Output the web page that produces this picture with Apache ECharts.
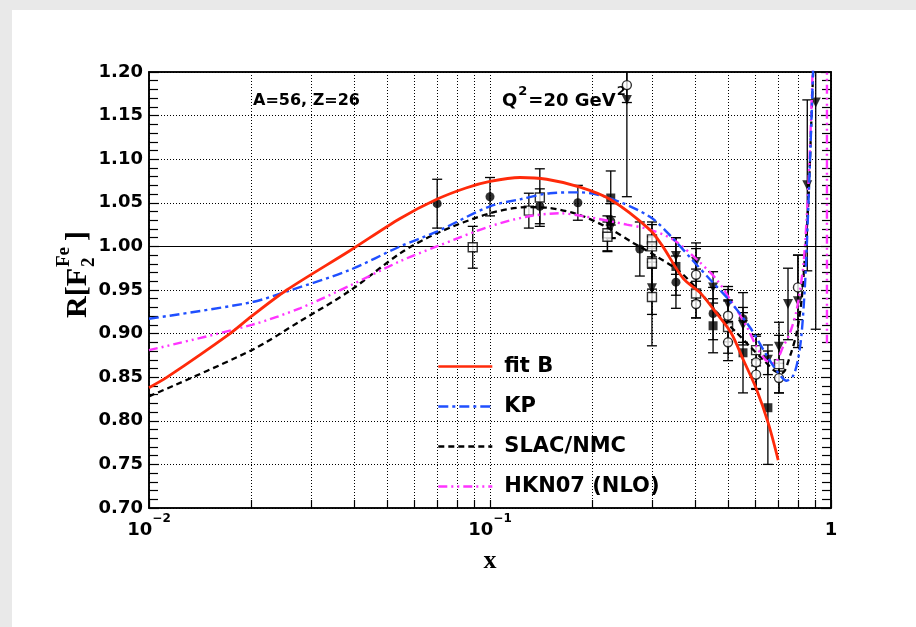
<!DOCTYPE html>
<html><head><meta charset="utf-8">
<script src="https://cdn.jsdelivr.net/npm/echarts@6/dist/echarts.min.js"></script>
<style>
html,body{margin:0;padding:0;width:916px;height:627px;background:#e9e9e9;overflow:hidden;}
#c{position:absolute;left:12px;top:10px;width:904px;height:617px;background:#fff;}
</style></head><body><div id="c"></div>
<script>
// ---------------- data ----------------
const X_TICKS = [0.01,0.02,0.03,0.04,0.05,0.06,0.07,0.08,0.09,0.1,0.2,0.3,0.4,0.5,0.6,0.7,0.8,0.9,1];
const X_LABELS = [0.01, 0.1, 1];

const fitB_x = [0.01,0.0113,0.01728,0.02,0.02535,0.0388,0.0545,0.0698,0.085,0.100,0.1225,0.1466,0.1836,0.2249,0.2945,0.321,0.369,0.413,0.454,0.509,0.553,0.605,0.655,0.70];
const fitB_y = [0.838,0.850,0.900,0.920,0.950,0.995,1.032,1.054,1.067,1.0745,1.079,1.077,1.068,1.054,1.019,1.000,0.963,0.947,0.927,0.901,0.870,0.836,0.797,0.755];

const kp_x = [0.01,0.02,0.0259,0.0388,0.0545,0.0698,0.100,0.1225,0.150,0.1836,0.224,0.2945,0.343,0.395,0.442,0.506,0.579,0.65,0.70,0.741,0.775,0.80,0.82,0.84,0.855,0.87,0.886,0.91];
const kp_y = [0.917,0.936,0.9495,0.973,1.000,1.017,1.046,1.054,1.061,1.062,1.0555,1.034,1.0096,0.983,0.962,0.937,0.907,0.874,0.855,0.846,0.852,0.870,0.900,0.960,1.030,1.110,1.200,1.330];

const slac_x = [0.01,0.02,0.0277,0.0388,0.0545,0.0698,0.100,0.128,0.150,0.1836,0.2249,0.263,0.308,0.3605,0.42,0.483,0.529,0.579,0.633,0.685,0.72,0.758,0.793,0.82,0.839,0.858,0.875,0.89];
const slac_y = [0.828,0.881,0.914,0.949,0.992,1.015,1.038,1.045,1.044,1.036,1.020,1.004,0.9885,0.971,0.944,0.916,0.901,0.885,0.870,0.857,0.855,0.874,0.901,0.939,0.990,1.050,1.140,1.220];

const hkn_x = [0.01,0.02,0.0277,0.0388,0.0545,0.0698,0.100,0.128,0.1604,0.192,0.252,0.29,0.344,0.404,0.462,0.506,0.566,0.605,0.642,0.68,0.724,0.758,0.793,0.829,0.849,0.865,0.878,0.89];
const hkn_y = [0.881,0.910,0.929,0.955,0.983,1.000,1.023,1.034,1.038,1.034,1.025,1.020,1.008,0.985,0.962,0.939,0.908,0.885,0.870,0.866,0.885,0.901,0.927,0.977,1.034,1.100,1.170,1.250];
const hknTail_x = [0.973, 0.973];
const hknTail_y = [1.30, 0.889];

// data points: x, ratio, error
const circF_x = [0.070,0.100,0.140,0.181,0.226,0.275,0.351,0.451,0.552];
const circF_y = [1.049,1.057,1.046,1.050,1.029,0.997,0.959,0.923,0.917];
const circF_e = [0.028,0.022,0.020,0.020,0.020,0.031,0.030,0.030,0.030];

const sqO_x = [0.089,0.130,0.140,0.221,0.221,0.2985,0.2985,0.2985,0.2985,0.402,0.499,0.603,0.704];
const sqO_y = [0.999,1.041,1.056,1.015,1.011,1.008,1.000,0.981,0.942,0.946,0.9075,0.881,0.865];
const sqO_e = [0.024,0.020,0.033,0.020,0.017,0.020,0.025,0.030,0.056,0.028,0.030,0.018,0.033];

const sqF_x = [0.226,0.351,0.451,0.552,0.653];
const sqF_y = [1.0555,0.977,0.909,0.878,0.815];
const sqF_e = [0.031,0.033,0.031,0.046,0.065];

const tri_x = [0.226,0.252,0.2985,0.351,0.402,0.451,0.499,0.552,0.653,0.704,0.748,0.800,0.852,0.902];
const tri_y = [1.022,1.168,0.952,0.989,0.982,0.953,0.934,0.910,0.870,0.885,0.934,0.937,1.070,1.165];
const tri_e = [0.012,0.111,0.030,0.021,0.022,0.018,0.020,0.020,0.017,0.028,0.041,0.053,0.098,0.260];

const circO_x = [0.252,0.402,0.402,0.499,0.499,0.603,0.603,0.704,0.800];
const circO_y = [1.185,0.9675,0.934,0.9205,0.890,0.867,0.853,0.849,0.953];
const circO_e = [0.020,0.030,0.016,0.030,0.021,0.030,0.017,0.017,0.037];

// ---------------- chart ----------------
const FONT = 'DejaVu Sans';
const pairs = (xs, ys) => xs.map((x, i) => [x, ys[i]]);
const triples = (xs, ys, es) => xs.map((x, i) => [x, ys[i], es[i]]);

function errRender(params, api) {
  const x = api.value(0), y = api.value(1), e = api.value(2);
  const top = api.coord([x, y + e]);
  const bot = api.coord([x, y - e]);
  const w = 5;
  const style = { stroke: '#000', lineWidth: 1.3 };
  return { type: 'group', children: [
    { type: 'line', shape: { x1: top[0], y1: top[1], x2: bot[0], y2: bot[1] }, style },
    { type: 'line', shape: { x1: top[0] - w, y1: top[1], x2: top[0] + w, y2: top[1] }, style },
    { type: 'line', shape: { x1: bot[0] - w, y1: bot[1], x2: bot[0] + w, y2: bot[1] }, style }
  ]};
}
const errSeries = (xs, ys, es) => ({
  type: 'custom', renderItem: errRender, clip: true, silent: true, z: 3,
  data: triples(xs, ys, es), encode: { x: 0, y: 1 }
});
const ptSeries = (xs, ys, symbol, filled, size, rot) => ({
  type: 'scatter', symbol, symbolSize: size, symbolRotate: rot || 0, clip: true, silent: true, z: 4,
  itemStyle: filled ? { color: '#000' } : { color: '#fff', borderColor: '#000', borderWidth: 1.4 },
  data: pairs(xs, ys)
});
const curve = (name, xs, ys, color, width, type, smooth) => ({
  name, type: 'line', symbol: 'none', showSymbol: false, smooth: smooth, clip: true, z: 5,
  lineStyle: { color, width, type }, itemStyle: { color },
  data: pairs(xs, ys)
});

const axisLineStyle = { color: '#000', width: 1.6 };
const tickStyle = { color: '#000', width: 1.2 };
const gridLine = { show: true, lineStyle: { type: [1, 2], color: '#000', width: 1 } };

const option = {
  backgroundColor: '#fff',
  animation: false,
  grid: { left: 137, top: 62, width: 682, height: 436, show: true, borderColor: '#000', borderWidth: 1.6, backgroundColor: 'transparent' },
  xAxis: [{
    type: 'log', logBase: 10, min: 0.01, max: 1, position: 'bottom',
    axisLine: { show: true, onZero: false, lineStyle: axisLineStyle },
    axisTick: { show: true, inside: true, length: 8, customValues: X_TICKS, lineStyle: tickStyle },
    axisLabel: {
      customValues: X_LABELS, margin: 5, color: '#000',
      formatter: v => {
        if (Math.abs(v - 1) < 1e-9) return '{one|1}';
        const p = Math.round(Math.log10(v));
        return '{b|10}{s|' + (p < 0 ? '\u2212' : '') + Math.abs(p) + '}';
      },
      rich: {
        b: { fontFamily: FONT, fontWeight: 'bold', fontSize: 18, color: '#000', lineHeight: 26, verticalAlign: 'bottom' },
        s: { fontFamily: FONT, fontWeight: 'bold', fontSize: 12, color: '#000', lineHeight: 14, verticalAlign: 'top' },
        one: { fontFamily: FONT, fontWeight: 'bold', fontSize: 18, color: '#000', lineHeight: 26, padding: [8, 0, 0, 0] }
      }
    },
    splitLine: gridLine,
    name: 'x', nameLocation: 'middle', nameGap: 40,
    nameTextStyle: { fontFamily: 'Liberation Serif', fontWeight: 'bold', fontSize: 26, color: '#000' }
  }, {
    type: 'log', logBase: 10, min: 0.01, max: 1, position: 'top',
    axisLine: { show: true, onZero: false, lineStyle: axisLineStyle },
    axisTick: { show: false }, axisLabel: { show: false }, splitLine: { show: false }
  }],
  yAxis: [{
    type: 'value', min: 0.7, max: 1.2, interval: 0.05, position: 'left',
    axisLine: { show: true, onZero: false, lineStyle: axisLineStyle },
    axisTick: { show: true, inside: true, length: 10, lineStyle: tickStyle },
    minorTick: { show: true, splitNumber: 5, length: 9, lineStyle: tickStyle },
    axisLabel: { formatter: v => v.toFixed(2), fontFamily: FONT, fontWeight: 'bold', fontSize: 18, color: '#000', margin: 6 },
    splitLine: gridLine
  }, {
    type: 'value', min: 0.7, max: 1.2, interval: 0.05, position: 'right',
    axisLine: { show: true, onZero: false, lineStyle: axisLineStyle },
    axisTick: { show: true, inside: true, length: 10, lineStyle: tickStyle },
    minorTick: { show: true, splitNumber: 5, length: 9, lineStyle: tickStyle },
    axisLabel: { show: false }, splitLine: { show: false }
  }],
  legend: {
    data: ['fit B', 'KP', 'SLAC/NMC', 'HKN07 (NLO)'],
    orient: 'vertical', left: 425, top: 346, itemWidth: 54, itemHeight: 14, itemGap: 19, padding: 0,
    itemStyle: { opacity: 0, color: 'rgba(0,0,0,0)', borderWidth: 0 },
    lineStyle: { width: 2.6 },
    textStyle: { fontFamily: FONT, fontWeight: 'bold', fontSize: 21, color: '#000', padding: [0, 0, 0, 7] },
    selectedMode: false
  },
  graphic: [
    { type: 'text', left: 241, top: 83, style: { text: 'A=56, Z=26', font: 'bold 16px "DejaVu Sans"', fill: '#000' } },
    { type: 'text', left: 490, top: 75, style: {
        text: '{t|Q}{s|2}{t|=20 GeV}{s|2}',
        rich: {
          t: { font: 'bold 18px "DejaVu Sans"', fill: '#000', lineHeight: 25, verticalAlign: 'bottom' },
          s: { font: 'bold 13px "DejaVu Sans"', fill: '#000', lineHeight: 13, verticalAlign: 'top', padding: [0, 1, 0, 1] }
        } } },
    { type: 'group', x: 66, y: 308, rotation: Math.PI / 2, children: [
      { type: 'text', x: 0, y: 0, style: { text: 'R[F', font: 'bold 30px "Liberation Serif"', fill: '#000', align: 'left', verticalAlign: 'middle' } },
      { type: 'text', x: 51, y: 11, style: { text: '2', font: 'bold 19px "Liberation Serif"', fill: '#000', align: 'left', verticalAlign: 'middle' } },
      { type: 'text', x: 51, y: -14, style: { text: 'Fe', font: 'bold 19px "Liberation Serif"', fill: '#000', align: 'left', verticalAlign: 'middle' } },
      { type: 'text', x: 77, y: 0, style: { text: ']', font: 'bold 30px "Liberation Serif"', fill: '#000', align: 'left', verticalAlign: 'middle' } }
    ] }
  ],
  series: [
    curve('SLAC/NMC', slac_x, slac_y, '#000', 2.3, [6, 4], 0.3),
    curve('HKN07 (NLO)', hkn_x, hkn_y, '#ff33ff', 2.4, [9, 4, 2, 4, 2, 4], 0.3),
    curve('HKN07 (NLO)', hknTail_x, hknTail_y, '#ff33ff', 2.4, [9, 4, 2, 4, 2, 4], false),
    curve('KP', kp_x, kp_y, '#1f4fff', 2.4, [10, 4, 3, 4], 0.3),
    Object.assign(curve('fit B', fitB_x, fitB_y, '#ff2a0a', 2.8, 'solid', 0.3), {
      markLine: { silent: true, symbol: 'none', label: { show: false },
        lineStyle: { type: 'solid', color: '#000', width: 1 }, data: [{ yAxis: 1 }] }
    }),
    errSeries(circF_x, circF_y, circF_e),
    errSeries(sqO_x, sqO_y, sqO_e),
    errSeries(sqF_x, sqF_y, sqF_e),
    errSeries(tri_x, tri_y, tri_e),
    errSeries(circO_x, circO_y, circO_e),
    ptSeries(circF_x, circF_y, 'circle', true, 9),
    ptSeries(sqO_x, sqO_y, 'rect', false, 9),
    ptSeries(sqF_x, sqF_y, 'rect', true, 9),
    ptSeries(tri_x, tri_y, 'triangle', true, 10, 180),
    ptSeries(circO_x, circO_y, 'circle', false, 9)
  ]
};
const chart = echarts.init(document.getElementById('c'));
chart.setOption(option);
</script></body></html>
